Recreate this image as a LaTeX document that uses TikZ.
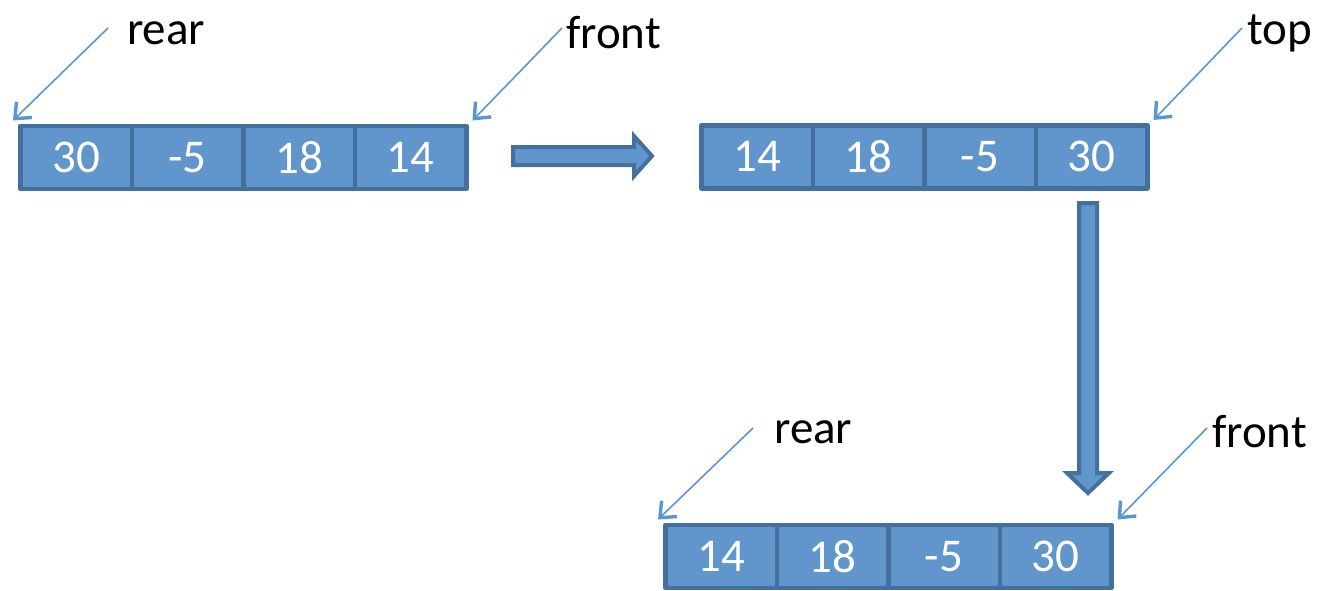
\documentclass[tikz,border=0pt]{standalone}
\usepackage{fontspec}
\setmainfont{Carlito}
\usetikzlibrary{arrows.meta}
\definecolor{cellfill}{RGB}{96,150,204}
\definecolor{cellline}{RGB}{68,112,158}
\definecolor{ptrline}{RGB}{91,150,210}
\tikzset{
  cell/.style={draw=cellline, fill=cellfill, line width=4.5pt, minimum width=111.5pt, minimum height=63pt, inner sep=0pt, text=white, font=\fontsize{47}{47}\selectfont, anchor=north west, line join=round},
  lbl/.style={font=\fontsize{47}{47}\selectfont, text=black, inner sep=0pt, anchor=west},
  ptr/.style={draw=ptrline, line width=1.6pt, -{Straight Barb[length=13pt, width=22pt, line width=3.4pt]}},
  block/.style={draw=cellline, fill=cellfill, line width=4pt, line join=miter}
}
\begin{document}
\begin{tikzpicture}[x=1pt,y=-1pt]
\useasboundingbox (0,0) rectangle (1321,590);
% row 1
\node[cell] (a1) at (18,123.5) {30};
\node[cell] (a2) at (129.5,123.5) {-5};
\node[cell] (a3) at (241,123.5) {18};
\node[cell] (a4) at (352.5,123.5) {14};
% row 2
\node[cell] (b1) at (699,123) {14};
\node[cell] (b2) at (810.5,123) {18};
\node[cell] (b3) at (922,123) {-5};
\node[cell] (b4) at (1033.5,123) {30};
% row 3
\node[cell] (c1) at (663,522.5) {14};
\node[cell] (c2) at (774.5,522.5) {18};
\node[cell] (c3) at (886,522.5) {-5};
\node[cell] (c4) at (997.5,522.5) {30};
% labels
\node[lbl] (l1) at (127,33) {rear};
\node[lbl] (l2) at (566,33) {front};
\node[lbl] (l3) at (1247,33) {top};
\node[lbl] (l4) at (774,432) {rear};
\node[lbl] (l5) at (1212,432) {front};
% pointer starts
\coordinate (p1) at (108,28);
\coordinate (p2) at (562,28);
\coordinate (p3) at (1242,28);
\coordinate (p4) at (753,428);
\coordinate (p5) at (1207,428);
\draw[ptr] (p1) -- ([shift={(-5,-3)}]a1.north west);
\draw[ptr] (p2) -- ([shift={(4,-3)}]a4.north east);
\draw[ptr] (p3) -- ([shift={(4,-3)}]b4.north east);
\draw[ptr] (p4) -- ([shift={(-5,-3)}]c1.north west);
\draw[ptr] (p5) -- ([shift={(4,-3)}]c4.north east);
% block arrows
\path[block] (513,147) -- (634,147) -- (634,136) -- (652,156) -- (634,176) -- (634,165) -- (513,165) -- cycle;
\path[block] (1079,203) -- (1097,203) -- (1097,473) -- (1109,473) -- (1088,493) -- (1067,473) -- (1079,473) -- cycle;
\end{tikzpicture}
\end{document}
